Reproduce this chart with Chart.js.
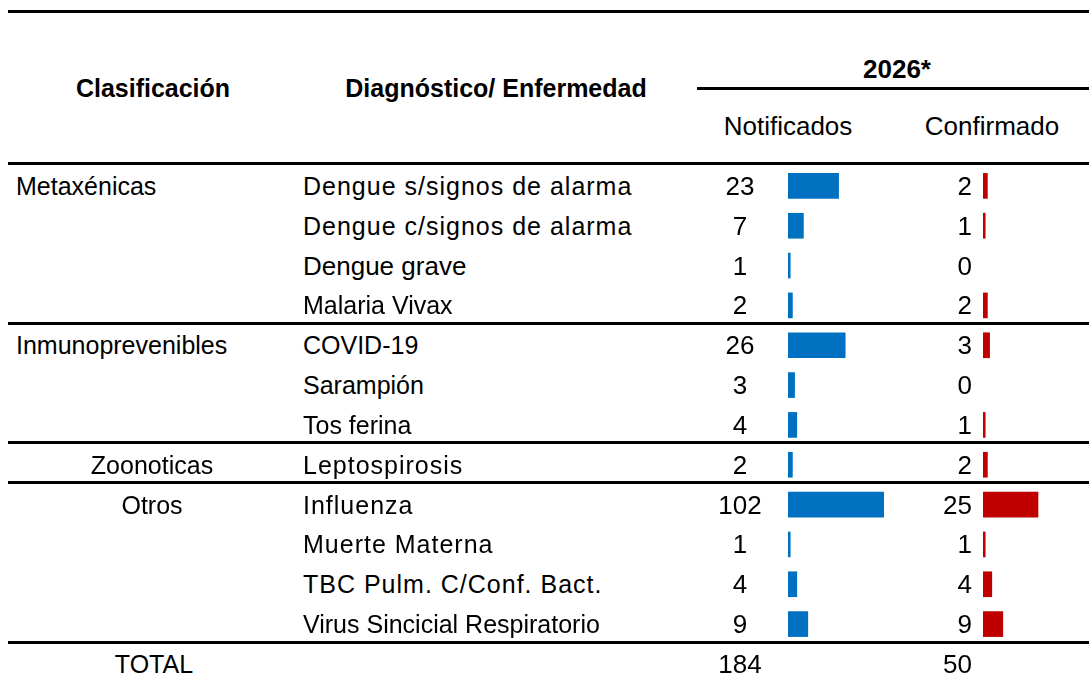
<!DOCTYPE html>
<html lang="es">
<head>
<meta charset="utf-8">
<title>Notificados y confirmados 2026</title>
<script src="https://cdn.jsdelivr.net/npm/chart.js@4.4.1/dist/chart.umd.min.js"></script>
<style>
  html, body { margin: 0; padding: 0; background: #fff; }
  #sheet {
    position: relative; width: 1089px; height: 678px; overflow: hidden;
    font-family: Arial, "Liberation Sans", sans-serif; color: #000;
  }
  .rule { position: absolute; left: 8px; right: 0; height: 3px; background: #000; }
  .cell { position: absolute; white-space: nowrap; font-size: 25px; height: 40px; line-height: 40px; }
  .head { font-weight: bold; }
  .spaced { letter-spacing: 1px; }
  .barbox { position: absolute; }
</style>
</head>
<body>
<div id="sheet">
  <div id="notifBox" class="barbox"><canvas id="notifChart"></canvas></div>
  <div id="confBox" class="barbox"><canvas id="confChart"></canvas></div>
</div>
<script>
// table data
const groups = ['Metaxénicas', 'Inmunoprevenibles', 'Zoonoticas', 'Otros'];
const groupSizes = [4, 3, 1, 4];
const diseases = [
  'Dengue s/signos de alarma', 'Dengue c/signos de alarma', 'Dengue grave', 'Malaria Vivax',
  'COVID-19', 'Sarampión', 'Tos ferina',
  'Leptospirosis',
  'Influenza', 'Muerte Materna', 'TBC Pulm. C/Conf. Bact.', 'Virus Sincicial Respiratorio'
];
const notificados = [23, 7, 1, 2, 26, 3, 4, 2, 102, 1, 4, 9];
const confirmados = [2, 1, 0, 2, 3, 0, 1, 2, 25, 1, 4, 9];
const yearLabel = '2026*';
const headers = ['Clasificación', 'Diagnóstico/ Enfermedad', 'Notificados', 'Confirmado'];
const totalLabel = 'TOTAL';

// layout
const ROW_TOP = 163.5;
const ROW_H = 39.85;
const PX_PER_UNIT = 2.2;
const BLUE = '#0070C0';
const RED = '#C00000';

const sheet = document.getElementById('sheet');

function rule(top, left) {
  const d = document.createElement('div');
  d.className = 'rule';
  d.style.top = top + 'px';
  if (left != null) d.style.left = left + 'px';
  sheet.appendChild(d);
}

// capY = vertical centre of capital letters
function text(str, x, capY, align, cls, size) {
  const d = document.createElement('div');
  d.className = 'cell' + (cls ? ' ' + cls : '');
  d.textContent = str;
  if (size) d.style.fontSize = size + 'px';
  d.style.top = (capY - 20) + 'px';
  if (align === 'left') {
    d.style.left = x + 'px';
  } else if (align === 'right') {
    d.style.right = (1089 - x) + 'px';
    d.style.textAlign = 'right';
  } else {
    d.style.left = (x - 250) + 'px';
    d.style.width = '500px';
    d.style.textAlign = 'center';
  }
  sheet.appendChild(d);
}

const rowCap = i => ROW_TOP + i * ROW_H + 22.3;

// rules
rule(10);
rule(87, 697);
rule(162);
let start = 0;
groupSizes.forEach(n => {
  start += n;
  rule(Math.round(ROW_TOP + start * ROW_H - 1));
});

// headers
text(headers[0], 153, 87.5, 'center', 'head');
text(headers[1], 496, 87.5, 'center', 'head');
text(yearLabel, 897, 68.5, 'center', 'head', 26);
text(headers[2], 788, 125.5, 'center', null, 26);
text(headers[3], 992, 125.5, 'center', null, 26);

// group labels
start = 0;
groups.forEach((g, k) => {
  if (k < 2) text(g, 16, rowCap(start), 'left');
  else text(g, 152, rowCap(start), 'center');
  start += groupSizes[k];
});

// rows
const spacedRows = new Set([0, 1, 7, 8, 9, 10]);
diseases.forEach((name, i) => {
  text(name, 303, rowCap(i), 'left', spacedRows.has(i) ? 'spaced' : null, i === 2 ? 26 : null);
  text(String(notificados[i]), 740, rowCap(i), 'center', null, 26);
  text(String(confirmados[i]), 972, rowCap(i), 'right', null, 26);
});

// totals
const sum = arr => arr.reduce((a, b) => a + b, 0);
text(totalLabel, 154, rowCap(12), 'center');
text(String(sum(notificados)), 740, rowCap(12), 'center', null, 26);
text(String(sum(confirmados)), 972, rowCap(12), 'right', null, 26);

// in-cell data bars
function placeBox(id, left, width) {
  const box = document.getElementById(id);
  box.style.left = left + 'px';
  box.style.top = '166px';
  box.style.width = width + 'px';
  box.style.height = Math.round(diseases.length * ROW_H) + 'px';
  return width;
}

function makeBars(canvasId, values, color, width) {
  new Chart(document.getElementById(canvasId), {
    type: 'bar',
    data: {
      labels: diseases,
      datasets: [{
        // zero cells get no bar at all
        data: values.map(v => (v === 0 ? null : v)),
        backgroundColor: color,
        borderWidth: 0,
        barThickness: 25,
        clip: 0
      }]
    },
    options: {
      indexAxis: 'y',
      responsive: true,
      maintainAspectRatio: false,
      animation: false,
      layout: { padding: 0 },
      plugins: {
        legend: { display: false },
        tooltip: { enabled: false }
      },
      scales: {
        x: { display: false, min: 0, max: width / PX_PER_UNIT },
        y: { display: false }
      }
    }
  });
}

makeBars('notifChart', notificados, BLUE, placeBox('notifBox', 788, 96));
makeBars('confChart', confirmados, RED, placeBox('confBox', 983, 106));
</script>
</body>
</html>
